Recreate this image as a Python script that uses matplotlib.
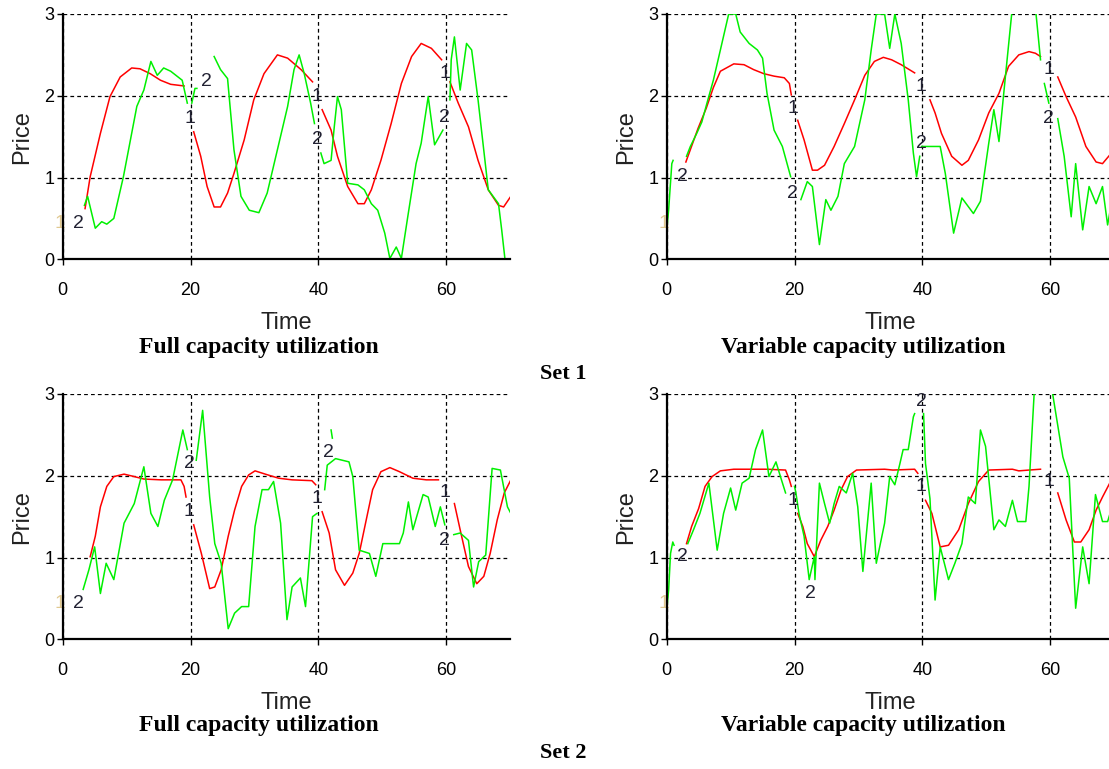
import numpy as np
import matplotlib.pyplot as plt

nan = np.nan

# ---- Set 1, full capacity utilization ----
s1_full_t1 = [3.5, 4.3, 5.9, 7.4, 9.0, 10.8, 12.1, 13.7, 15.3, 16.9, 19.0, nan,
              20.5, 21.6, 22.6, 23.7, 24.7, 25.8, 26.8, 28.4, 29.9, 31.5, 33.6, 35.2, 37.3, 39.1, nan,
              40.6, 42.0, 43.0, 44.6, 46.2, 47.2, 48.3, 49.8, 51.4, 53.0, 54.6, 56.1, 57.7, 59.3, nan,
              60.6, 61.9, 63.5, 65.0, 66.6, 68.2, 69.0, 70.3]
s1_full_p1 = [0.62, 1.01, 1.54, 1.99, 2.23, 2.34, 2.33, 2.27, 2.19, 2.14, 2.12, nan,
              1.56, 1.26, 0.89, 0.64, 0.64, 0.81, 1.05, 1.46, 1.95, 2.27, 2.50, 2.46, 2.32, 2.17, nan,
              1.83, 1.58, 1.26, 0.89, 0.68, 0.68, 0.85, 1.21, 1.66, 2.15, 2.48, 2.64, 2.58, 2.44, nan,
              2.17, 1.91, 1.62, 1.21, 0.85, 0.66, 0.64, 0.79]
s1_full_t2 = [3.4, 3.9, 5.1, 6.1, 6.9, 8.0, 9.5, 11.6, 12.7, 13.8, 14.8, 15.8, 16.9, 18.7, 19.5, nan,
              20.2, 20.7, 21.0, nan,
              23.7, 24.7, 25.8, 26.8, 27.9, 29.2, 30.7, 32.0, 33.6, 35.2, 36.2, 37.0, 37.8, 38.8, 39.4, nan,
              40.4, 40.9, 42.0, 42.5, 43.0, 43.6, 44.6, 46.2, 47.2, 48.3, 49.3, 50.4, 51.2, 52.2, 53.0,
              54.0, 55.3, 56.1, 57.2, 58.2, 59.5, nan,
              60.6, 60.8, 61.3, 62.2, 63.2, 64.0, 65.0, 66.6, 68.2, 68.7, 69.2]
s1_full_p2 = [0.66, 0.77, 0.38, 0.46, 0.43, 0.50, 1.01, 1.87, 2.07, 2.42, 2.25, 2.34, 2.30, 2.19, 1.91, nan,
              1.91, 2.09, 2.09, nan,
              2.48, 2.32, 2.21, 1.34, 0.77, 0.60, 0.57, 0.81, 1.34, 1.87, 2.32, 2.50, 2.27, 1.91, 1.66, nan,
              1.30, 1.17, 1.21, 1.62, 1.99, 1.83, 0.93, 0.91, 0.85, 0.68, 0.60, 0.32, 0.01, 0.15, 0.01,
              0.52, 1.17, 1.42, 1.99, 1.40, 1.58, nan,
              1.95, 2.44, 2.72, 2.07, 2.64, 2.56, 1.95, 0.85, 0.68, 0.36, 0.01]
s1_full_labels = [("1", -0.4, 0.44), ("2", 2.5, 0.44), ("1", 19.9, 1.72), ("2", 22.5, 2.17),
                  ("1", 39.8, 1.99), ("2", 39.9, 1.46), ("1", 59.8, 2.27), ("2", 59.8, 1.74)]

# ---- Set 1, variable capacity utilization ----
s1_var_t1 = [3.0, 4.9, 6.2, 7.3, 8.4, 10.5, 12.1, 13.6, 15.2, 16.8, 18.4, 19.2, 19.5, nan,
             20.5, 21.5, 22.8, 23.6, 24.7, 26.2, 27.8, 29.4, 31.0, 32.5, 33.9, 35.2, 36.7, 38.8, nan,
             41.2, 42.0, 43.0, 44.6, 46.2, 47.2, 48.8, 50.4, 52.0, 53.5, 55.1, 56.7, 57.7, 58.5, nan,
             61.2, 62.5, 64.0, 65.6, 67.2, 68.2, 69.6, 70.5]
s1_var_p1 = [1.19, 1.60, 1.85, 2.10, 2.30, 2.39, 2.38, 2.32, 2.27, 2.24, 2.22, 2.15, 2.01, nan,
             1.70, 1.46, 1.09, 1.09, 1.15, 1.38, 1.66, 1.95, 2.25, 2.42, 2.47, 2.44, 2.38, 2.28, nan,
             1.95, 1.79, 1.54, 1.26, 1.15, 1.21, 1.46, 1.79, 2.03, 2.36, 2.50, 2.54, 2.52, 2.48, nan,
             2.23, 1.99, 1.74, 1.38, 1.19, 1.17, 1.30, 1.34]
s1_var_t2 = [0.0, 0.3, 0.8, 1.0, nan,
             3.1, 3.7, 4.7, 5.5, 6.3, 7.3, 8.4, 9.7, 10.8, 11.5, 12.9, 14.2, 15.0, 15.7, 16.8, 18.1, 19.4, nan,
             21.0, 22.0, 22.8, 23.9, 24.9, 25.7, 26.8, 27.8, 29.4, 31.0, 32.0, 32.8, 34.1, 34.9, 35.7,
             36.7, 37.8, 38.6, 39.1, 39.6, nan,
             39.9, 42.8, 43.6, 44.9, 46.2, 48.0, 49.1, 50.4, 51.2, 52.0, 53.0, 54.5, 57.3, 58.5, nan,
             59.1, 59.8, nan,
             61.2, 62.2, 63.3, 64.0, 65.1, 66.1, 67.2, 68.2, 69.0, 69.7]
s1_var_p2 = [0.36, 0.60, 1.17, 1.21, nan,
             1.26, 1.38, 1.54, 1.68, 1.91, 2.19, 2.56, 3.0, 3.0, 2.78, 2.64, 2.56, 2.46, 2.03, 1.58, 1.38, 1.01, nan,
             0.73, 0.95, 0.89, 0.18, 0.73, 0.60, 0.77, 1.17, 1.38, 1.95, 2.56, 3.0, 3.0, 2.58, 3.0,
             2.64, 1.95, 1.30, 1.01, 1.26, nan,
             1.38, 1.38, 1.05, 0.32, 0.75, 0.56, 0.71, 1.42, 1.83, 1.44, 2.23, 3.4, 3.4, 2.44, nan,
             2.15, 1.91, nan,
             1.72, 1.26, 0.52, 1.17, 0.36, 0.89, 0.68, 0.89, 0.42, 0.73]
s1_var_labels = [("1", -0.4, 0.44), ("2", 2.4, 1.01), ("1", 19.8, 1.85), ("2", 19.7, 0.81),
                 ("1", 39.8, 2.11), ("2", 39.8, 1.42), ("1", 59.8, 2.32), ("2", 59.8, 1.72)]

# ---- Set 2, full capacity utilization ----
s2_full_t1 = [4.3, 5.1, 5.9, 6.9, 8.0, 9.6, 11.2, 12.7, 15.4, 18.5, 19.0, 19.3, nan,
              20.5, 21.7, 23.0, 23.8, 24.8, 25.9, 26.9, 28.0, 29.1, 30.1, 31.7, 33.8, 35.9, 39.0, 39.6, nan,
              40.6, 41.7, 42.7, 44.1, 45.4, 46.4, 47.5, 48.5, 49.8, 51.2, 52.7, 54.8, 56.9, 58.8, nan,
              61.3, 62.2, 63.5, 64.8, 65.9, 66.9, 68.0, 69.1, 70.4]
s2_full_p1 = [1.01, 1.26, 1.62, 1.87, 1.99, 2.02, 1.99, 1.96, 1.95, 1.95, 1.87, 1.74, nan,
              1.40, 1.05, 0.62, 0.64, 0.85, 1.26, 1.58, 1.87, 2.01, 2.06, 2.02, 1.97, 1.95, 1.94, 1.89, nan,
              1.56, 1.30, 0.85, 0.66, 0.81, 1.05, 1.46, 1.83, 2.05, 2.10, 2.05, 1.97, 1.95, 1.95, nan,
              1.66, 1.34, 0.89, 0.68, 0.77, 1.05, 1.46, 1.79, 1.99]
s2_full_t2 = [3.2, 4.1, 5.0, 5.9, 6.8, 8.0, 9.6, 11.2, 12.7, 13.8, 14.9, 15.9, 17.2, 18.8, 19.5, nan,
              20.9, 21.9, 23.0, 23.8, 24.8, 25.9, 26.9, 28.0, 29.1, 30.1, 31.2, 32.2, 33.0, 34.1, 35.1,
              35.9, 37.2, 38.0, 39.1, 39.8, nan,
              42.0, 42.2, nan,
              41.0, 41.4, 42.7, 44.8, 45.4, 46.4, 48.0, 49.0, 50.1, 52.7, 53.3, 54.1, 54.8, 56.4, 57.2,
              58.3, 59.1, 59.8, nan,
              61.2, 62.2, 63.5, 64.3, 65.1, 66.2, 67.2, 68.5, 69.6, 70.4]
s2_full_p2 = [0.61, 0.85, 1.13, 0.56, 0.93, 0.73, 1.42, 1.66, 2.11, 1.54, 1.38, 1.70, 1.95, 2.56, 2.32, nan,
              2.19, 2.80, 1.74, 1.17, 0.93, 0.13, 0.32, 0.40, 0.40, 1.38, 1.83, 1.83, 1.93, 1.42, 0.24,
              0.64, 0.75, 0.40, 1.50, 1.54, nan,
              2.56, 2.46, nan,
              1.83, 2.13, 2.21, 2.17, 1.99, 1.09, 1.05, 0.77, 1.17, 1.17, 1.30, 1.68, 1.34, 1.77, 1.74,
              1.38, 1.62, 1.40, nan,
              1.28, 1.30, 1.21, 0.64, 0.95, 1.03, 2.09, 2.07, 1.62, 1.50]
s2_full_labels = [("1", -0.4, 0.44), ("2", 2.5, 0.44), ("2", 19.8, 2.15), ("1", 19.8, 1.56),
                  ("2", 41.6, 2.29), ("1", 39.8, 1.72), ("1", 59.8, 1.79), ("2", 59.8, 1.21)]

# ---- Set 2, variable capacity utilization ----
s2_var_t1 = [3.1, 3.9, 5.0, 6.0, 7.1, 8.4, 10.5, 15.7, 18.6, 19.2, 19.5, nan,
             20.5, 21.3, 22.0, 23.1, 24.1, 25.2, 26.2, 27.3, 28.3, 29.7, 34.1, 35.4, 38.8, 39.3, nan,
             40.5, 41.5, 42.8, 44.1, 45.7, 47.2, 48.8, 50.4, 54.1, 55.1, 56.7, 58.5, nan,
             61.2, 62.5, 63.8, 64.8, 66.1, 67.2, 68.2, 69.6, 70.5]
s2_var_p1 = [1.17, 1.38, 1.60, 1.87, 1.99, 2.06, 2.08, 2.08, 2.07, 1.95, 1.87, nan,
             1.54, 1.38, 1.17, 1.01, 1.21, 1.38, 1.58, 1.83, 1.99, 2.07, 2.08, 2.07, 2.08, 2.03, nan,
             1.70, 1.54, 1.13, 1.15, 1.34, 1.66, 1.93, 2.07, 2.08, 2.06, 2.07, 2.08, nan,
             1.79, 1.46, 1.19, 1.19, 1.34, 1.58, 1.74, 1.95, 2.02]
s2_var_t2 = [0.0, 0.3, 0.6, 0.95, 1.15, nan,
             3.3, 4.2, 5.2, 6.6, 7.9, 8.9, 10.0, 10.8, 11.8, 12.9, 13.9, 15.0, 16.0, 17.1, 17.8, 18.6, nan,
             20.0, 20.2, 20.7, 21.5, 22.3, 23.1, 23.2, 23.9, 24.7, 25.5, 26.2, 27.0, 28.1, 29.1, 29.9,
             30.7, 32.0, 32.8, 34.1, 34.9, 35.7, 36.5, 37.0, 37.8, 38.6, 38.8, nan,
             40.2, 40.5, 40.7, 41.2, 42.0, 42.8, 44.1, 45.1, 46.2, 47.2, 48.3, 49.1, 49.9, 51.2, 52.0,
             53.0, 54.1, 54.9, 56.2, 56.7, 57.5, 58.0, nan,
             60.0, 60.4, 62.0, 63.0, 64.0, 65.1, 66.1, 67.1, 68.2, 69.0, 69.7, 70.5]
s2_var_p2 = [0.36, 0.60, 1.05, 1.19, 1.15, nan,
             1.17, 1.34, 1.54, 1.91, 1.09, 1.54, 1.85, 1.58, 1.91, 1.97, 2.32, 2.56, 1.99, 2.17, 1.99, 1.79, nan,
             1.87, 1.80, 1.54, 1.26, 0.73, 1.01, 0.73, 1.91, 1.66, 1.42, 1.66, 1.87, 1.79, 2.03, 1.62,
             0.83, 1.91, 0.93, 1.42, 1.99, 1.89, 2.15, 2.32, 2.32, 2.72, 2.76, nan,
             2.76, 2.15, 2.03, 1.72, 0.48, 1.13, 0.73, 0.93, 1.17, 1.74, 1.66, 2.56, 2.36, 1.34, 1.46,
             1.38, 1.70, 1.44, 1.44, 1.87, 3.0, 3.4, nan,
             3.3, 3.0, 2.23, 1.97, 0.38, 1.13, 0.68, 1.77, 1.44, 1.44, 1.62, 1.55]
s2_var_labels = [("1", -0.4, 0.44), ("2", 2.4, 1.01), ("1", 19.8, 1.70), ("2", 22.5, 0.56),
                 ("1", 39.8, 1.87), ("2", 39.8, 2.91), ("1", 59.8, 1.93)]

plt.rcParams['font.family'] = ['Liberation Sans', 'DejaVu Sans']

W, H = 1109, 769
fig = plt.figure(figsize=(W / 100, H / 100), dpi=100)


def add_panel(x0, y_top, x1, y_bot):
    return fig.add_axes([x0 / W, 1 - y_bot / H, (x1 - x0) / W, (y_bot - y_top) / H])


def draw(ax, t1, p1, t2, p2, labels):
    ax.plot(t1, p1, color='#ff0000', lw=1.1)
    ax.plot(t2, p2, color='#00f000', lw=1.1)
    for s, x, y in labels:
        # the label sitting on the y axis is drawn faint, half hidden by the spine
        faint = x < 0
        ax.text(x, y, s, ha='center', va='center', fontsize=14,
                color='#e0c890' if faint else '#222233', clip_on=False, zorder=1 if faint else 3)
    ax.set_xlim(0, 70)
    ax.set_ylim(0, 3)
    ax.set_xticks([0, 20, 40, 60])
    ax.set_yticks([0, 1, 2, 3])
    ax.grid(True, color='black', ls=(0, (3, 2.5)), lw=0.9)
    for side in ['top', 'right']:
        ax.spines[side].set_visible(False)
    for side in ['left', 'bottom']:
        ax.spines[side].set_linewidth(1.6)
        ax.spines[side].set_zorder(2.5)
    ax.tick_params(axis='x', length=4, width=1, pad=12, labelsize=13)
    ax.tick_params(axis='y', length=4, width=1, pad=2, labelsize=13)
    ax.set_facecolor('none')


panels = [
    ((62.7, 14, 510, 259.3), s1_full_t1, s1_full_p1, s1_full_t2, s1_full_p2, s1_full_labels),
    ((666.7, 14, 1114, 259.3), s1_var_t1, s1_var_p1, s1_var_t2, s1_var_p2, s1_var_labels),
    ((62.7, 394, 510, 639.3), s2_full_t1, s2_full_p1, s2_full_t2, s2_full_p2, s2_full_labels),
    ((666.7, 394, 1114, 639.3), s2_var_t1, s2_var_p1, s2_var_t2, s2_var_p2, s2_var_labels),
]

for box, t1, p1, t2, p2, labels in panels:
    ax = add_panel(*box)
    draw(ax, t1, p1, t2, p2, labels)
    x0, y_top, x1, y_bot = box
    xc = (x0 + x1) / 2
    fig.text(xc / W, 1 - (y_bot + 64) / H, 'Time', ha='center', va='center', fontsize=17, color='#222222')
    fig.text((x0 - 41) / W, 1 - ((y_top + y_bot) / 2) / H, 'Price', ha='center', va='center',
             rotation=90, fontsize=17, color='#222222')

serif = ['Liberation Serif', 'DejaVu Serif']
for y, set_name in [(347, 'Set 1'), (726, 'Set 2')]:
    fig.text(259 / W, 1 - y / H, 'Full capacity utilization', ha='center', va='center',
             fontsize=17, fontweight='bold', family=serif)
    fig.text(863 / W, 1 - y / H, 'Variable capacity utilization', ha='center', va='center',
             fontsize=17, fontweight='bold', family=serif)
    fig.text(563 / W, 1 - (y + 27) / H, set_name, ha='center', va='center',
             fontsize=16, fontweight='bold', family=serif)

fig.savefig('out.png', dpi=100)
